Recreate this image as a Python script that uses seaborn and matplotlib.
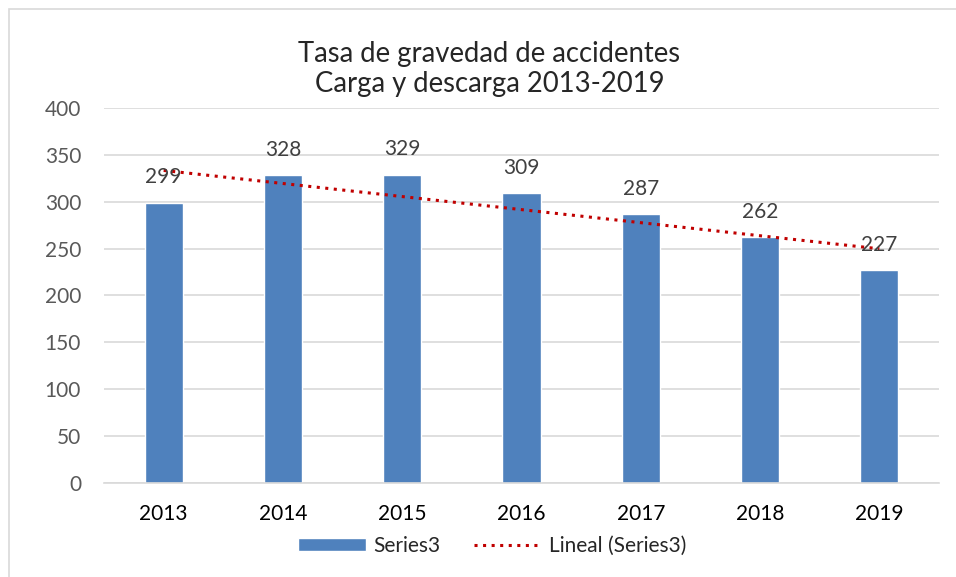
import numpy as np
import pandas as pd
import seaborn as sns
import matplotlib.pyplot as plt
from matplotlib.patches import Rectangle, Patch
from matplotlib.lines import Line2D

# data
years = ['2013', '2014', '2015', '2016', '2017', '2018', '2019']
values = [299, 328, 329, 309, 287, 262, 227]
y_ticks = [0, 50, 100, 150, 200, 250, 300, 350, 400]

df = pd.DataFrame({'year': years, 'value': values})

sns.set_style('white')
plt.rcParams['font.family'] = ['Lato', 'DejaVu Sans']

fig = plt.figure(figsize=(9.56, 5.77), dpi=100)
ax = fig.add_axes([0.1088, 0.1629, 0.8734, 0.65])

sns.barplot(data=df, x='year', y='value', color='#4f81bd', width=0.32,
            saturation=1, ax=ax, zorder=2)

# linear trend line (Excel style)
dots = (0, (1, 1.8))
x = np.arange(len(values))
slope, intercept = np.polyfit(x, values, 1)
ax.plot(x, slope * x + intercept, color='#c00000', linestyle=dots,
        linewidth=2.2, zorder=3)

# data labels
for i, v in enumerate(values):
    ax.text(i, v + 27, str(v), ha='center', va='center', fontsize=15,
            color='#404040', zorder=4)

ax.set_ylim(0, 400)
ax.set_xlim(-0.5, len(years) - 0.5)
ax.set_yticks(y_ticks)
ax.yaxis.grid(True, color='#d9d9d9', linewidth=1.2)
ax.set_axisbelow(True)
for s in ['top', 'right', 'left']:
    ax.spines[s].set_visible(False)
ax.spines['bottom'].set_color('#d9d9d9')
ax.spines['bottom'].set_linewidth(1.2)
ax.tick_params(axis='y', labelsize=15, labelcolor='#595959', length=0, pad=16.5)
ax.tick_params(axis='x', labelsize=15, labelcolor='black', length=0, pad=15)
ax.set_xlabel('')
ax.set_ylabel('')

fig.text(0.512, 0.881, 'Tasa de gravedad de accidentes\nCarga y descarga 2013-2019',
         ha='center', va='center', fontsize=19.8, linespacing=1.2)

handles = [Patch(facecolor='#4f81bd', label='Series3'),
           Line2D([0], [0], color='#c00000', linestyle=dots,
                  linewidth=2.2, label='Lineal (Series3)')]
fig.legend(handles=handles, loc='center', bbox_to_anchor=(0.515, 0.054), ncol=2,
           frameon=False, fontsize=15, handlelength=3.27, handleheight=0.63,
           columnspacing=1.6, handletextpad=0.34, borderpad=0)

# chart border (right and bottom edges fall outside the image)
fig.patches.append(Rectangle((9 / 956, -0.1), 1.2, 1.1 - 9 / 577, transform=fig.transFigure,
                             fill=False, edgecolor='#d9d9d9', linewidth=1.2))

fig.savefig('out.png', dpi=100)
